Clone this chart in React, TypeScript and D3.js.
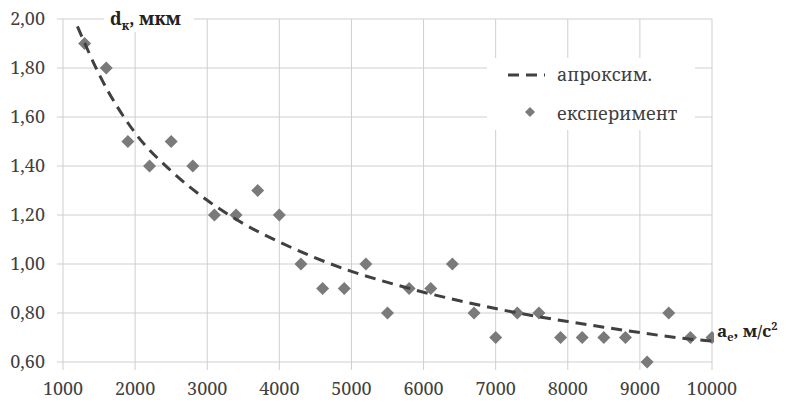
import React from "react";
import * as d3 from "d3";

const expX = [1300, 1600, 1900, 2200, 2500, 2800, 3100, 3400, 3700, 4000, 4300, 4600, 4900, 5200, 5500, 5800, 6100, 6400, 6700, 7000, 7300, 7600, 7900, 8200, 8500, 8800, 9100, 9400, 9700, 10000];
const expY = [1.9, 1.8, 1.5, 1.4, 1.5, 1.4, 1.2, 1.2, 1.3, 1.2, 1.0, 0.9, 0.9, 1.0, 0.8, 0.9, 0.9, 1.0, 0.8, 0.7, 0.8, 0.8, 0.7, 0.7, 0.7, 0.7, 0.6, 0.8, 0.7, 0.7];

const fitX = [1200, 1500, 2000, 2500, 3000, 3500, 4000, 4500, 5000, 5500, 6000, 6500, 7000, 7500, 8000, 8500, 9000, 9500, 10000];
const fitY = [1.97, 1.775, 1.535, 1.38, 1.26, 1.165, 1.09, 1.025, 0.97, 0.925, 0.885, 0.85, 0.818, 0.79, 0.765, 0.742, 0.72, 0.70, 0.685];

const xTicks = [1000, 2000, 3000, 4000, 5000, 6000, 7000, 8000, 9000, 10000];
const yTicks = [0.6, 0.8, 1.0, 1.2, 1.4, 1.6, 1.8, 2.0];

const legendLabels = ["апроксим.", "експеримент"];

const W = 786;
const H = 403;
const FONT = "Noto Serif, Liberation Serif, serif";
const ts = { fontFamily: FONT };

export default function App() {
  const x = d3.scaleLinear().domain([1000, 10000]).range([63, 712]);
  const y = d3.scaleLinear().domain([0.6, 2.0]).range([362, 19]);
  const fmt = (v: number) => v.toFixed(2).replace(".", ",");

  const line = d3
    .line<number>()
    .x((_, i) => x(fitX[i]))
    .y((d) => y(d))
    .curve(d3.curveMonotoneX);

  const diamond = (cx: number, cy: number, r: number) =>
    `M${cx},${cy - r}L${cx + r},${cy}L${cx},${cy + r}L${cx - r},${cy}Z`;

  return (
    <svg
      width={W}
      height={H}
      style={{ position: "absolute", left: 0, top: 0, background: "#fff", fontFamily: FONT }}
    >
      <rect x={0} y={0} width={W} height={H} fill="#fff" />
      {/* grid */}
      <g stroke="#cfcfcf" strokeWidth={1}>
        {xTicks.map((t) => (
          <line key={"vx" + t} x1={x(t)} x2={x(t)} y1={y(2.0)} y2={y(0.6) + 8} />
        ))}
        {yTicks.map((t) => (
          <line key={"hy" + t} x1={x(1000) - 6} x2={x(10000)} y1={y(t)} y2={y(t)} />
        ))}
      </g>
      {/* y tick labels */}
      <g fontSize={18} fill="#404040" textAnchor="end" style={ts}>
        {yTicks.map((t) => (
          <text key={"yl" + t} x={45} y={y(t)} dy="0.36em" style={ts}>
            {fmt(t)}
          </text>
        ))}
      </g>
      {/* x tick labels */}
      <g fontSize={18} fill="#404040" textAnchor="middle" style={ts}>
        {xTicks.map((t) => (
          <text key={"xl" + t} x={x(t)} y={395} style={ts}>
            {t}
          </text>
        ))}
      </g>
      {/* experimental points */}
      <g fill="#7a7a7a">
        {expX.map((v, i) => (
          <path key={"p" + i} d={diamond(x(v), y(expY[i]), 6.5)} />
        ))}
      </g>
      {/* fitted line */}
      <path
        d={line(fitY) || ""}
        fill="none"
        stroke="#404040"
        strokeWidth={3}
        strokeDasharray="11,7"
      />
      {/* y axis title */}
      <rect x={104} y={6} width={90} height={26} fill="#fff" />
      <text x={110} y={25} fontSize={18} fontWeight="bold" fill="#222" style={ts}>
        <tspan>d</tspan>
        <tspan fontSize={12} dy={5}>к</tspan>
        <tspan dy={-5}>, мкм</tspan>
      </text>
      {/* x axis title */}
      <rect x={714} y={318} width={72} height={30} fill="#fff" />
      <text x={717} y={337} fontSize={17} fontWeight="bold" fill="#222" style={ts}>
        <tspan>a</tspan>
        <tspan fontSize={11} dy={4}>е</tspan>
        <tspan dy={-4}>, м/с</tspan>
        <tspan fontSize={11} dy={-7}>2</tspan>
      </text>
      {/* legend */}
      <rect x={487} y={58} width={208} height={72} fill="#fff" />
      <line x1={508} x2={545} y1={75} y2={75} stroke="#404040" strokeWidth={3} strokeDasharray="11,7" />
      <text x={557} y={75} dy="0.32em" fontSize={18} fill="#404040" style={ts}>
        {legendLabels[0]}
      </text>
      <path d={diamond(530, 112, 5)} fill="#7a7a7a" />
      <text x={557} y={114} dy="0.32em" fontSize={18} fill="#404040" style={ts}>
        {legendLabels[1]}
      </text>
    </svg>
  );
}
